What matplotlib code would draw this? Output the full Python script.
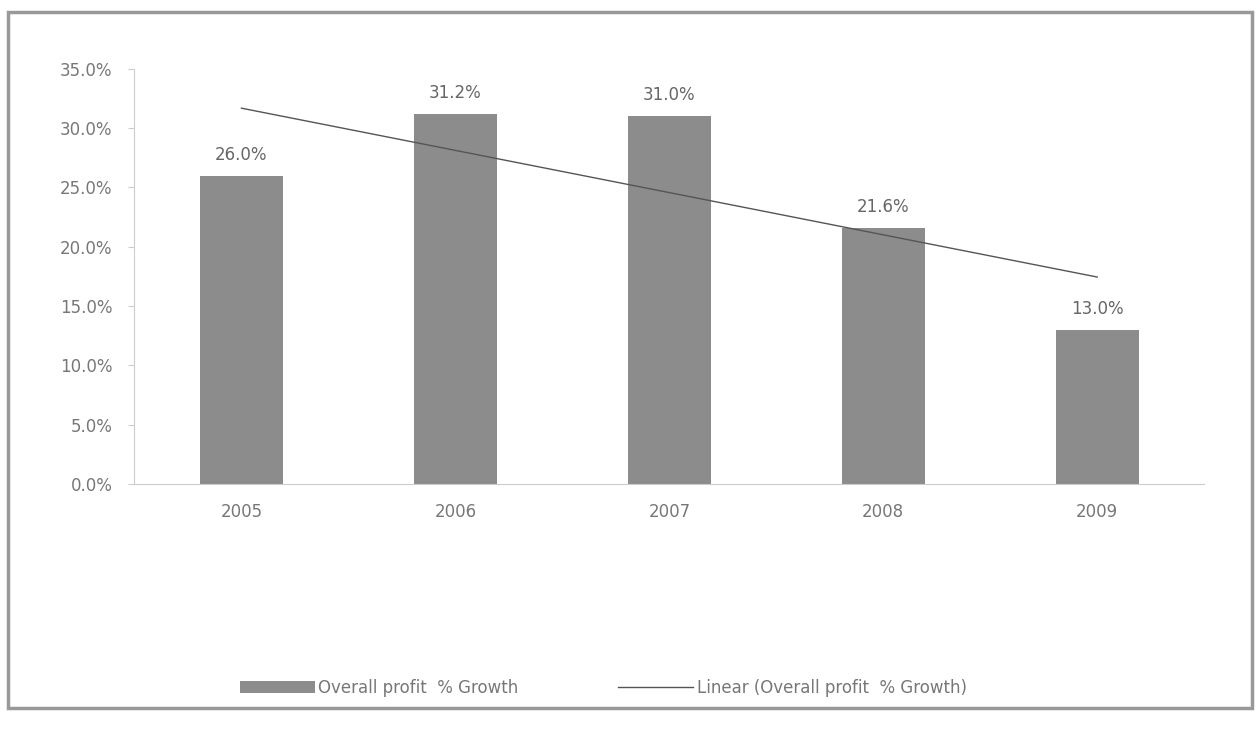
import numpy as np
import matplotlib.pyplot as plt
from matplotlib.patches import Rectangle

# Data
years = ['2005', '2006', '2007', '2008', '2009']
growth = [26.0, 31.2, 31.0, 21.6, 13.0]
yticks = [0, 5, 10, 15, 20, 25, 30, 35]
ytick_labels = ['0.0%', '5.0%', '10.0%', '15.0%', '20.0%', '25.0%', '30.0%', '35.0%']

fig = plt.figure(figsize=(12.57, 7.32), dpi=100)
ax = fig.add_axes([0.107, 0.339, 0.851, 0.567])

x = np.arange(len(years))
bars = ax.bar(x, growth, width=0.39, color='#8c8c8c', label='Overall profit  % Growth', zorder=2)

# linear trend line (least squares over the bars)
slope, intercept = np.polyfit(x, growth, 1)
trend, = ax.plot(x, slope * x + intercept, color='#555555', linewidth=1.0,
                 label='Linear (Overall profit  % Growth)', zorder=3)

for xi, v in zip(x, growth):
    ax.text(xi, v + 1.0, f'{v:.1f}%', ha='center', va='bottom', fontsize=12, color='#666666')

ax.set_xlim(-0.5, 4.5)
ax.set_ylim(0, 35)
ax.set_xticks(x)
ax.set_xticklabels(years)
ax.set_yticks(yticks)
ax.set_yticklabels(ytick_labels)
ax.tick_params(axis='x', length=0, pad=14, labelsize=12, labelcolor='#777777')
ax.tick_params(axis='y', length=4, color='#cccccc', pad=12, labelsize=12, labelcolor='#777777')

for side in ['top', 'right']:
    ax.spines[side].set_visible(False)
ax.spines['left'].set_color('#cccccc')
ax.spines['bottom'].set_color('#cccccc')

fig.legend(handles=[bars, trend], loc='center', bbox_to_anchor=(0.48, 0.06), ncol=2,
           frameon=False, fontsize=12, labelcolor='#777777', columnspacing=6,
           handlelength=4.5, handletextpad=0.2)

# outer frame
fig.patches.append(Rectangle((0.006, 0.033), 0.99, 0.95, transform=fig.transFigure,
                             fill=False, edgecolor='#999999', linewidth=2.5))

plt.savefig('out.png')
